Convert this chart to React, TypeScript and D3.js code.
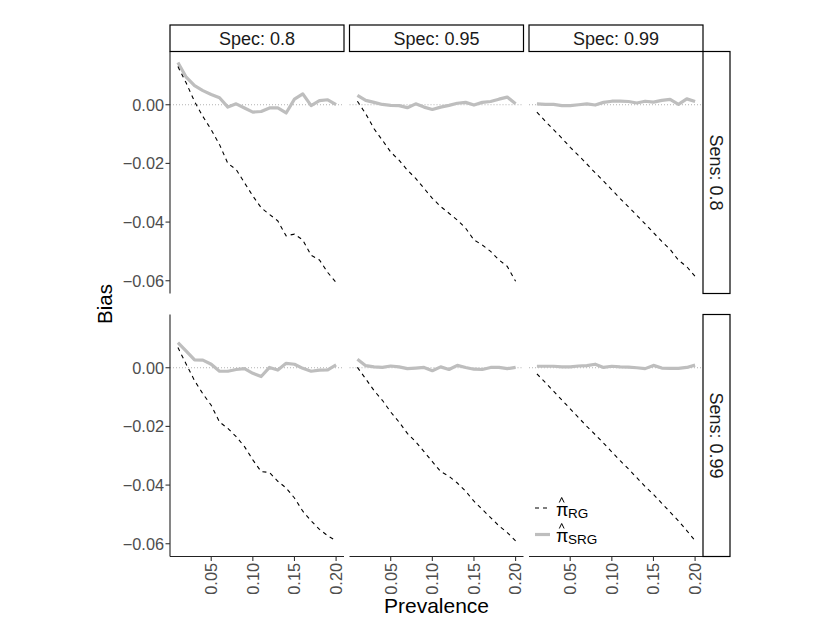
import React from "react";
import * as d3 from "d3";

const prevalence = [0.01, 0.02, 0.03, 0.04, 0.05, 0.06, 0.07, 0.08, 0.09, 0.1, 0.11, 0.12, 0.13, 0.14, 0.15, 0.16, 0.17, 0.18, 0.19, 0.2];
const specLabels = ["Spec: 0.8", "Spec: 0.95", "Spec: 0.99"];
const sensLabels = ["Sens: 0.8", "Sens: 0.99"];
const yTicks = [0, -0.02, -0.04, -0.06];
const xTicks = [0.05, 0.1, 0.15, 0.2];

// Sens 0.8
const rgSe80Sp80 = [0.013, 0.0074, 0.0011, -0.004, -0.0085, -0.0136, -0.02, -0.0221, -0.0266, -0.0311, -0.0351, -0.0374, -0.0396, -0.0447, -0.0441, -0.0461, -0.0513, -0.0529, -0.0572, -0.0606];
const srgSe80Sp80 = [0.0144, 0.0094, 0.0065, 0.0048, 0.0035, 0.0024, -0.0008, 0.0003, -0.0011, -0.0025, -0.0023, -0.0011, -0.0011, -0.0028, 0.0019, 0.0037, -0.0003, 0.0014, 0.0017, 0.0];
const rgSe80Sp95 = [0.0012, -0.0031, -0.0082, -0.0121, -0.0161, -0.0189, -0.0223, -0.0251, -0.0285, -0.0319, -0.0347, -0.037, -0.0393, -0.0421, -0.0461, -0.0478, -0.05, -0.0529, -0.0551, -0.0602];
const srgSe80Sp95 = [0.0032, 0.0015, 0.0008, 0.0001, -0.0002, -0.0003, -0.001, 0.0003, -0.0008, -0.0016, -0.0008, -0.0002, 0.0005, 0.0008, -0.0001, 0.0008, 0.0011, 0.0019, 0.0026, 0.0003];
const rgSe80Sp99 = [-0.0025, -0.0056, -0.0085, -0.0114, -0.0145, -0.0173, -0.0202, -0.0232, -0.026, -0.029, -0.032, -0.0348, -0.0377, -0.0406, -0.0436, -0.0466, -0.0493, -0.053, -0.0552, -0.0585];
const srgSe80Sp99 = [0.0003, 0.0001, 0.0001, -0.0003, -0.0003, 0.0, 0.0003, -0.0001, 0.0008, 0.0012, 0.0012, 0.0011, 0.0006, 0.0012, 0.0009, 0.0015, 0.0018, 0.0001, 0.002, 0.0011];
// Sens 0.99
const rgSe99Sp80 = [0.0069, 0.0012, -0.0044, -0.0089, -0.0128, -0.0185, -0.0207, -0.0235, -0.0269, -0.0314, -0.0354, -0.0357, -0.0387, -0.041, -0.0444, -0.0489, -0.0522, -0.0551, -0.0573, -0.059];
const srgSe99Sp80 = [0.0086, 0.0057, 0.0027, 0.0026, 0.0012, -0.0012, -0.0012, -0.0006, -0.0003, -0.0019, -0.003, 0.0001, -0.0008, 0.0015, 0.0012, -0.0002, -0.0012, -0.0008, -0.0007, 0.001];
const rgSe99Sp95 = [0.0001, -0.0038, -0.0078, -0.0111, -0.0151, -0.0185, -0.0224, -0.0252, -0.0286, -0.032, -0.0354, -0.037, -0.0393, -0.0421, -0.0455, -0.0483, -0.0511, -0.0539, -0.0562, -0.059];
const srgSe99Sp95 = [0.0029, 0.0007, 0.0003, 0.0001, 0.0006, 0.0003, -0.0003, -0.0001, 0.0001, -0.001, 0.0003, -0.0006, 0.0008, 0.0001, -0.0005, -0.0006, 0.0001, 0.0001, -0.0003, 0.0001];
const rgSe99Sp99 = [-0.0021, -0.005, -0.008, -0.011, -0.014, -0.017, -0.02, -0.0228, -0.0257, -0.0287, -0.0317, -0.0345, -0.0375, -0.0405, -0.0432, -0.0462, -0.0492, -0.0522, -0.0555, -0.059];
const srgSe99Sp99 = [0.0005, 0.0005, 0.0005, 0.0003, 0.0003, 0.0006, 0.0007, 0.0012, 0.0001, 0.0005, 0.0003, 0.0002, 0.0, -0.0003, 0.0008, -0.0001, -0.0002, -0.0002, 0.0001, 0.0009];

const rgRows = [
  [rgSe80Sp80, rgSe80Sp95, rgSe80Sp99],
  [rgSe99Sp80, rgSe99Sp95, rgSe99Sp99],
];
const srgRows = [
  [srgSe80Sp80, srgSe80Sp95, srgSe80Sp99],
  [srgSe99Sp80, srgSe99Sp95, srgSe99Sp99],
];

const legendSubs = ["RG", "SRG"];

const W = 830;
const H = 642;
const panelLeft = 170;
const panelW = 174;
const gapX = 5.5;
const rowTops = [51.5, 314.5];
const panelH = 242;
const stripTop = 25;
const stripH = 26.5;
const rightStripW = 27;
const font = "'Liberation Sans', Arial, Helvetica, sans-serif";

function expand(ext: [number, number]): [number, number] {
  const r = ext[1] - ext[0];
  return [ext[0] - 0.05 * r, ext[1] + 0.05 * r];
}

export default function App() {
  const allVals = [...rgRows.flat(2), ...srgRows.flat(2)] as number[];
  const x = d3
    .scaleLinear()
    .domain(expand(d3.extent(prevalence) as [number, number]))
    .range([0, panelW]);
  const y = d3
    .scaleLinear()
    .domain(expand(d3.extent(allVals) as [number, number]))
    .range([panelH, 0]);
  const line = d3
    .line<number>()
    .x((_, i) => x(prevalence[i]))
    .y((d) => y(d));
  const fmt = d3.format(".2f");

  const colLeft = (c: number) => panelLeft + c * (panelW + gapX);
  const right = colLeft(2) + panelW;
  const bottom = rowTops[1] + panelH;

  return (
    <svg
      width={W}
      height={H}
      style={{ position: "fixed", left: 0, top: 0, background: "#fff" }}
      fontFamily={font}
    >
      <rect width={W} height={H} fill="#fff" />
      {rowTops.map((top, r) =>
        specLabels.map((_, c) => (
          <g key={`p${r}${c}`} transform={`translate(${colLeft(c)},${top})`}>
            <line x1={0} x2={panelW} y1={y(0)} y2={y(0)} stroke="#b3b3b3" strokeWidth={1} strokeDasharray="1,2" />
            <path d={line(srgRows[r][c]) || ""} fill="none" stroke="#bebebe" strokeWidth={3.2} strokeLinejoin="round" />
            <path d={line(rgRows[r][c]) || ""} fill="none" stroke="#000" strokeWidth={1.1} strokeDasharray="4,4" />
          </g>
        ))
      )}
      {/* y axes */}
      {rowTops.map((top, r) => (
        <g key={`ya${r}`} transform={`translate(${panelLeft},${top})`}>
          <line x1={0} x2={0} y1={0} y2={panelH} stroke="#222" strokeWidth={1.1} />
          {yTicks.map((t) => (
            <g key={t} transform={`translate(0,${y(t)})`}>
              <line x1={-4.5} x2={0} stroke="#333" strokeWidth={1.1} />
              <text x={-6} dy="0.36em" textAnchor="end" fontSize={16.3} fill="#4d4d4d">
                {fmt(t)}
              </text>
            </g>
          ))}
        </g>
      ))}
      {/* x axes */}
      {specLabels.map((_, c) => (
        <g key={`xa${c}`} transform={`translate(${colLeft(c)},${bottom})`}>
          <line x1={0} x2={panelW} y1={0} y2={0} stroke="#222" strokeWidth={1.1} />
          {xTicks.map((t) => (
            <g key={t} transform={`translate(${x(t)},0)`}>
              <line y1={0} y2={4.5} stroke="#333" strokeWidth={1.1} />
              <text transform="translate(0,6.5) rotate(-90)" dy="0.36em" textAnchor="end" fontSize={16.3} fill="#4d4d4d">
                {fmt(t)}
              </text>
            </g>
          ))}
        </g>
      ))}
      {/* top strips */}
      {specLabels.map((lab, c) => (
        <g key={`st${c}`}>
          <rect x={colLeft(c)} y={stripTop} width={panelW} height={stripH} fill="#fff" stroke="#000" strokeWidth={1.2} />
          <text x={colLeft(c) + panelW / 2} y={stripTop + stripH / 2} dy="0.36em" textAnchor="middle" fontSize={18} fill="#1a1a1a">
            {lab}
          </text>
        </g>
      ))}
      {/* right strips */}
      {sensLabels.map((lab, r) => (
        <g key={`sr${r}`}>
          <rect x={right} y={rowTops[r]} width={rightStripW} height={panelH} fill="#fff" stroke="#000" strokeWidth={1.2} />
          <text
            transform={`translate(${right + rightStripW / 2},${rowTops[r] + panelH / 2}) rotate(90)`}
            dy="0.36em"
            textAnchor="middle"
            fontSize={18}
            fill="#1a1a1a"
          >
            {lab}
          </text>
        </g>
      ))}
      {/* axis titles */}
      <text transform={`translate(112,${(rowTops[0] + bottom) / 2}) rotate(-90)`} textAnchor="middle" fontSize={20.5} fill="#000">
        Bias
      </text>
      <text x={(panelLeft + right) / 2} y={612.5} textAnchor="middle" fontSize={21} fill="#000">
        Prevalence
      </text>
      {/* legend */}
      <g>
        <line x1={535} x2={549} y1={508} y2={508} stroke="#000" strokeWidth={1.1} strokeDasharray="4,4" />
        <line x1={535} x2={550} y1={534.5} y2={534.5} stroke="#bebebe" strokeWidth={3.2} />
        {legendSubs.map((s, i) => {
          const by = 516 + i * 26;
          return (
            <g key={s}>
              <path
                d={`M559.3,${by - 13.5} L561.7,${by - 18.5} L564.1,${by - 13.5}`}
                fill="none"
                stroke="#000"
                strokeWidth={1}
              />
              <text x={556} y={by} fontSize={18} fill="#000">π</text>
              <text x={568} y={by + 2} fontSize={13.5} fill="#000">{s}</text>
            </g>
          );
        })}
      </g>
    </svg>
  );
}
